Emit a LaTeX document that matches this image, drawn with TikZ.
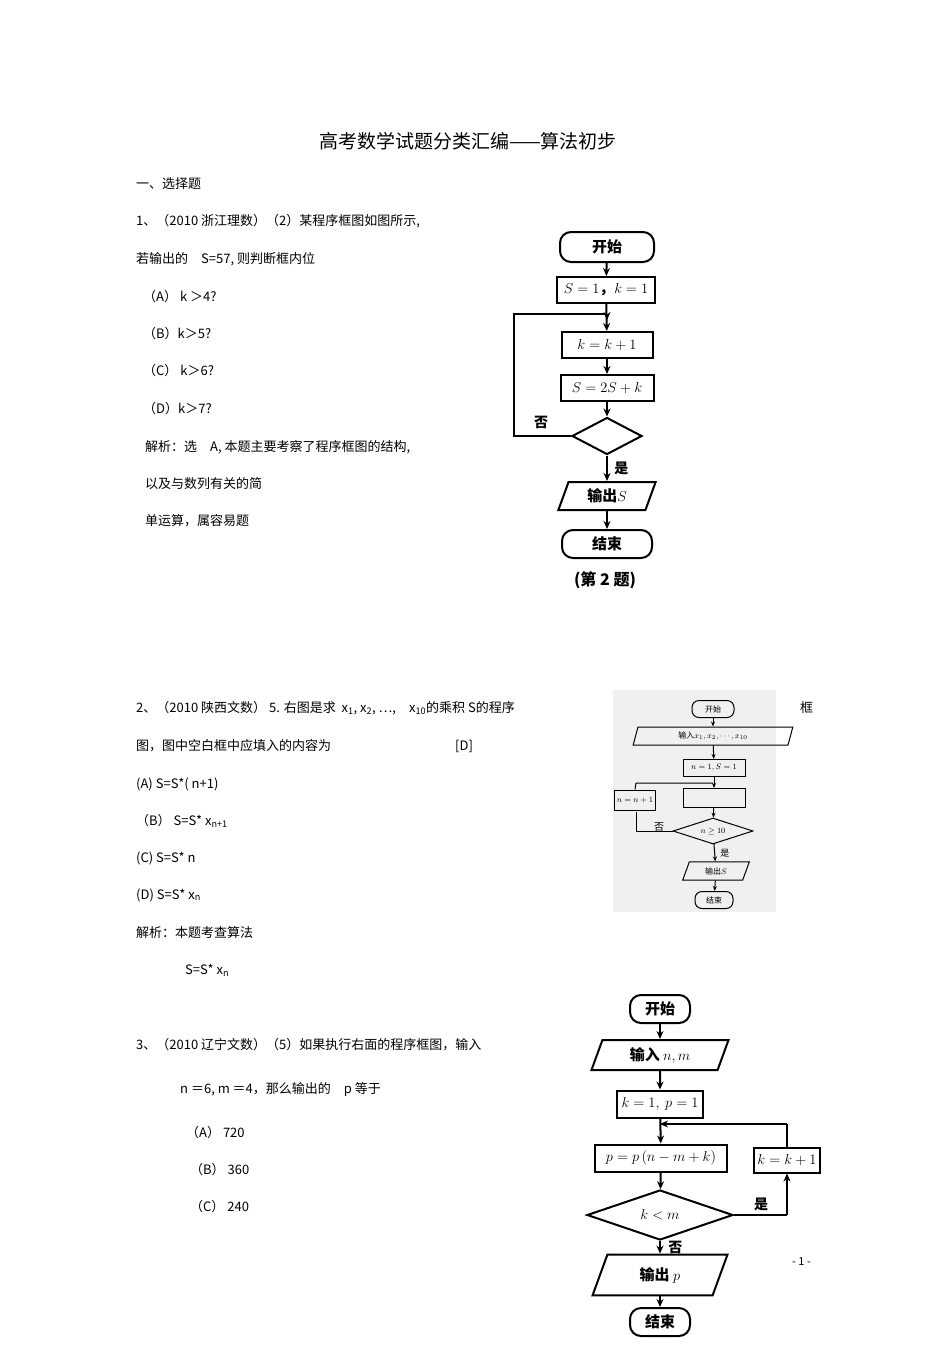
\documentclass[tikz,border=0pt]{standalone}
\usepackage{fontspec}
\setmainfont{Noto Sans CJK SC}
\usetikzlibrary{shapes.geometric,arrows.meta}
\begin{document}
\begin{tikzpicture}[x=1pt,y=-1pt,
  txt/.style={anchor=west,inner sep=0pt,font=\fontsize{13}{13}\selectfont},
  fb/.style={draw,line width=2pt,minimum width=#1,minimum height=26pt,inner sep=0pt,font=\fontsize{15}{15}\selectfont\bfseries},
  fr/.style={fb=#1,rounded corners=11pt},
  fp/.style={draw,line width=2pt,trapezium,trapezium left angle=70,trapezium right angle=110,minimum width=#1,minimum height=28pt,inner sep=0pt,font=\fontsize{15}{15}\selectfont\bfseries},
  fd/.style={draw,line width=2pt,diamond,aspect=#1,inner sep=0pt,font=\fontsize{14}{14}\selectfont\bfseries},
  ln/.style={line width=2pt},
  ar/.style={line width=2pt,-{Stealth[length=8pt,width=7pt]}},
  sb/.style={draw,line width=1pt,minimum width=#1,minimum height=17pt,inner sep=0pt,font=\fontsize{8}{8}\selectfont},
  sa/.style={line width=1pt,-{Stealth[length=5pt,width=4pt]}},
]
\useasboundingbox (0,0) rectangle (950,1345);
% title
\node[font=\fontsize{19}{19}\selectfont] (title) at (468,141) {高考数学试题分类汇编——算法初步};
\node[txt] (sec) at (136,184) {一、选择题};
% Q1
\node[txt] (q1a) at (136,221) {1、（2010 浙江理数）（2）某程序框图如图所示,};
\node[txt] (q1b) at (136,259) {若输出的\quad S=57,\ 则判断框内位};
\node[txt] (q1c) at (143,297) {（A）\ k ＞4?};
\node[txt] (q1d) at (143,334) {（B）k＞5?};
\node[txt] (q1e) at (143,371) {（C）\ k＞6?};
\node[txt] (q1f) at (143,409) {（D）k＞7?};
\node[txt] (q1g) at (145,447) {解析：选\quad A,\ 本题主要考察了程序框图的结构,};
\node[txt] (q1h) at (145,484) {以及与数列有关的简};
\node[txt] (q1i) at (145,521) {单运算，属容易题};
% flowchart 1
\node[fr=94pt,minimum height=30pt] (s1) at (607,247) {开始};
\node[fb=98pt] (i1) at (606,290) {$S=1$，$k=1$};
\node[fb=91pt] (k1) at (607,345) {$k=k+1$};
\node[fb=93pt] (u1) at (607,388) {$S=2S+k$};
\node[fd=1.9,minimum width=70pt,minimum height=37pt] (d1) at (607,436) {};
\node[fp=88pt] (o1) at (607,496) {输出$S$};
\node[fr=90pt,minimum height=28pt] (e1) at (607,544) {结束};
\node[font=\fontsize{16}{16}\selectfont\bfseries] (cap1) at (605,580) {(第 2 题)};
\coordinate (m1) at (607,314);
\draw[ar] (s1) -- (i1);
\draw[ar] (i1) -- (k1);
\draw[ar] (k1) -- (u1);
\draw[ar] (u1) -- (d1);
\draw[ar] (d1) -- (o1) node[midway,right=3pt,font=\fontsize{14}{14}\selectfont\bfseries] {是};
\draw[ar] (o1) -- (e1);
\draw[ln] (d1.west) -- (514,436) -- (514,314) -- (m1);
\draw[ar] (m1) -- (607,320);
\node[font=\fontsize{14}{14}\selectfont\bfseries] (no1) at (541,422) {否};
% Q2
\node[txt] (q2a) at (136,708) {2、（2010 陕西文数）\ 5. 右图是求\ \ x\textsubscript{1}, x\textsubscript{2},\ ⋯,\quad x\textsubscript{10}的乘积\ S的程序};
\node[txt] (q2k) at (800,708) {框};
\node[txt] (q2b) at (136,746) {图，图中空白框中应填入的内容为};
\node[txt] (q2D) at (455,746) {[D]};
\node[txt] (q2c) at (136,784) {(A) S=S*( n+1)};
\node[txt] (q2d) at (136,821) {（B） S=S* x\textsubscript{n+1}};
\node[txt] (q2e) at (136,858) {(C) S=S* n};
\node[txt] (q2f) at (136,895) {(D) S=S* x\textsubscript{n}};
\node[txt] (q2g) at (136,933) {解析：本题考查算法};
\node[txt] (q2h) at (185,970) {S=S* x\textsubscript{n}};
% flowchart 2
\fill[black!6] (613,690) rectangle (776,912);
\node[sb=42pt,rounded corners=7pt] (s2) at (713,709) {开始};
\node[draw,line width=1pt,trapezium,trapezium left angle=75,trapezium right angle=105,minimum width=100pt,minimum height=18pt,inner sep=0pt,font=\fontsize{8}{8}\selectfont] (i2) at (713,736) {输入$x_1,x_2,\cdots,x_{10}$};
\node[sb=62pt] (n2) at (714,768) {$n=1,S=1$};
\node[sb=62pt,minimum height=19pt] (b2) at (714,798) {};
\node[draw,line width=1pt,diamond,aspect=3,minimum width=80pt,minimum height=26pt,inner sep=0pt,font=\fontsize{8}{8}\selectfont] (d2) at (713,831) {$n\geq 10$};
\node[sb=41pt,minimum height=20pt] (p2) at (635,800) {$n=n+1$};
\node[draw,line width=1pt,trapezium,trapezium left angle=70,trapezium right angle=110,minimum width=67pt,minimum height=18pt,inner sep=0pt,font=\fontsize{8}{8}\selectfont] (o2) at (716,871) {输出$S$};
\node[sb=38pt,rounded corners=7pt] (e2) at (714,900) {结束};
\draw[sa] (s2) -- (i2);
\draw[sa] (i2) -- (n2);
\draw[sa] (n2) -- (b2);
\draw[sa] (b2) -- (d2);
\draw[sa] (d2) -- (o2) node[midway,right=2pt,font=\fontsize{9}{9}\selectfont] {是};
\draw[sa] (o2) -- (e2);
\draw[line width=1pt] (d2.west) -- (636,831) -- (636,812);
\coordinate (m2) at (713,783);
\draw[line width=1pt] (p2.north) -- (636,783) -- (m2);
\node[font=\fontsize{10}{10}\selectfont] (no2) at (659,827) {否};
% Q3
\node[txt] (q3a) at (136,1045) {3、（2010\ 辽宁文数）（5）如果执行右面的程序框图，输入};
\node[txt] (q3b) at (180,1089) {n ＝6, m ＝4，那么输出的\quad p 等于};
\node[txt] (q3c) at (186,1133) {（A）\ 720};
\node[txt] (q3d) at (190,1170) {（B）\ 360};
\node[txt] (q3e) at (190,1207) {（C）\ 240};
\node[txt,font=\fontsize{11}{11}\selectfont] (pg) at (792,1262) {- 1 -};
% flowchart 3
\node[fr=60pt,minimum height=28pt] (s3) at (660,1009) {开始};
\node[fp=135pt,minimum height=30pt] (i3) at (660,1055) {输入\ $n,m$};
\node[fb=86pt,minimum height=27pt] (k3) at (660,1104) {$k=1,\ p=1$};
\node[fb=132pt,minimum height=27pt] (p3) at (661,1158) {$p=p\,(n-m+k)$};
\node[fb=66pt,minimum height=25pt] (kk3) at (787,1160) {$k=k+1$};
\node[fd=2.9,minimum width=146pt,minimum height=50pt] (d3) at (660,1215) {$k<m$};
\node[fp=135pt,minimum height=30pt] (o3) at (660,1275) {输出\ $p$};
\node[fr=60pt,minimum height=28pt] (e3) at (660,1322) {结束};
\coordinate (m3) at (660,1124);
\draw[ar] (s3) -- (i3);
\draw[ar] (i3) -- (k3);
\draw[ar] (k3) -- (p3);
\draw[ar] (p3) -- (d3);
\draw[ar] (d3) -- (o3) node[midway,right=4pt,font=\fontsize{14}{14}\selectfont\bfseries] {否};
\draw[ar] (o3) -- (e3);
\draw[ln] (d3.east) -- (787,1215);
\draw[ar] (787,1215) -- (kk3.south);
\node[font=\fontsize{14}{14}\selectfont\bfseries] (yes3) at (761,1204) {是};
\draw[ln] (kk3.north) -- (787,1124);
\draw[ar] (787,1124) -- (m3);
\end{tikzpicture}
\end{document}
